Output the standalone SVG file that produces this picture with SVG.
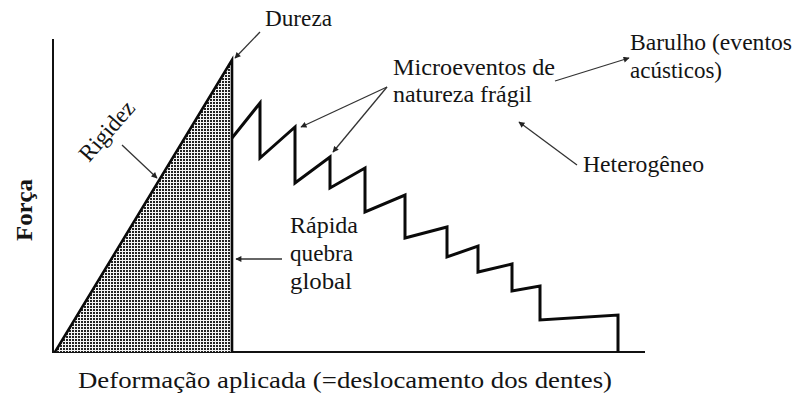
<svg xmlns="http://www.w3.org/2000/svg" width="794" height="396" viewBox="0 0 794 396">
<style>
.t{font-family:"Liberation Serif","Times New Roman",Tinos,serif;font-size:23.5px;fill:#141414}
.b{font-weight:bold}
.ax{stroke:#111;stroke-width:2;fill:none}
.cv{stroke:#0a0a0a;stroke-width:3;fill:none;stroke-linejoin:miter}
.ar{stroke:#333;stroke-width:1.3;fill:none;marker-end:url(#ah)}
</style>
<defs>
<pattern id="dots" width="3" height="3" patternUnits="userSpaceOnUse">
<rect width="3" height="3" fill="#f4f4f4"/>
<rect width="2" height="2" fill="#222"/>
</pattern>
<marker id="ah" viewBox="0 0 10 10" refX="9" refY="5" markerWidth="7" markerHeight="6" markerUnits="userSpaceOnUse" orient="auto">
<path d="M0,0 L10,5 L0,10 z" fill="#222"/>
</marker>
</defs>
<rect width="794" height="396" fill="#fff"/>

<g id="axes">
<line class="ax" x1="53" y1="39" x2="53" y2="353"/>
<line class="ax" x1="52" y1="352" x2="645" y2="352"/>
</g>

<g id="triangle">
<path d="M55,352 L232,60 L232,352 Z" fill="url(#dots)"/>
<path d="M55,352 L232,60 L232,352" fill="none" stroke="#0a0a0a" stroke-width="2.6"/>
</g>

<g id="curve">
<polyline class="cv" points="232,138 260,103 260,158 295,127 295,183 330,157 330,188 365,168 365,212 405,195 405,238 447,227 447,257 478,246 478,272 512,264 512,291 540,286 540,320 618,315 618,352"/>
</g>

<g id="connectors">
<line class="ar" x1="260" y1="32" x2="235" y2="58"/>
<line class="ar" x1="122" y1="145" x2="157" y2="178"/>
<line class="ar" x1="282" y1="259" x2="236" y2="259"/>
<line class="ar" x1="387" y1="87" x2="301" y2="127"/>
<line class="ar" x1="387" y1="87" x2="333" y2="152"/>
<line class="ar" x1="555" y1="81" x2="629" y2="58"/>
<line class="ar" x1="577" y1="165" x2="519" y2="122"/>
</g>

<g id="label-dureza"><text class="t" x="265" y="26" textLength="67" lengthAdjust="spacingAndGlyphs">Dureza</text></g>
<g id="label-rigidez"><text class="t" transform="translate(89,163) rotate(-49)" textLength="72" lengthAdjust="spacingAndGlyphs">Rigidez</text></g>
<g id="label-forca"><text class="t b" transform="translate(32,241) rotate(-90)" textLength="62" lengthAdjust="spacingAndGlyphs">Força</text></g>
<g id="label-micro">
<text class="t" x="393" y="75" textLength="162" lengthAdjust="spacingAndGlyphs">Microeventos de</text>
<text class="t" x="393" y="102" textLength="139" lengthAdjust="spacingAndGlyphs">natureza frágil</text>
</g>
<g id="label-barulho">
<text class="t" x="630" y="50" textLength="162" lengthAdjust="spacingAndGlyphs">Barulho (eventos</text>
<text class="t" x="630" y="78" textLength="92" lengthAdjust="spacingAndGlyphs">acústicos)</text>
</g>
<g id="label-hetero"><text class="t" x="583" y="172" textLength="121" lengthAdjust="spacingAndGlyphs">Heterogêneo</text></g>
<g id="label-rapida">
<text class="t" x="290" y="233" textLength="68" lengthAdjust="spacingAndGlyphs">Rápida</text>
<text class="t" x="290" y="261" textLength="63" lengthAdjust="spacingAndGlyphs">quebra</text>
<text class="t" x="290" y="289" textLength="62" lengthAdjust="spacingAndGlyphs">global</text>
</g>
<g id="label-x"><text class="t" x="78" y="388" textLength="534" lengthAdjust="spacingAndGlyphs">Deformação aplicada (=deslocamento dos dentes)</text></g>
</svg>
